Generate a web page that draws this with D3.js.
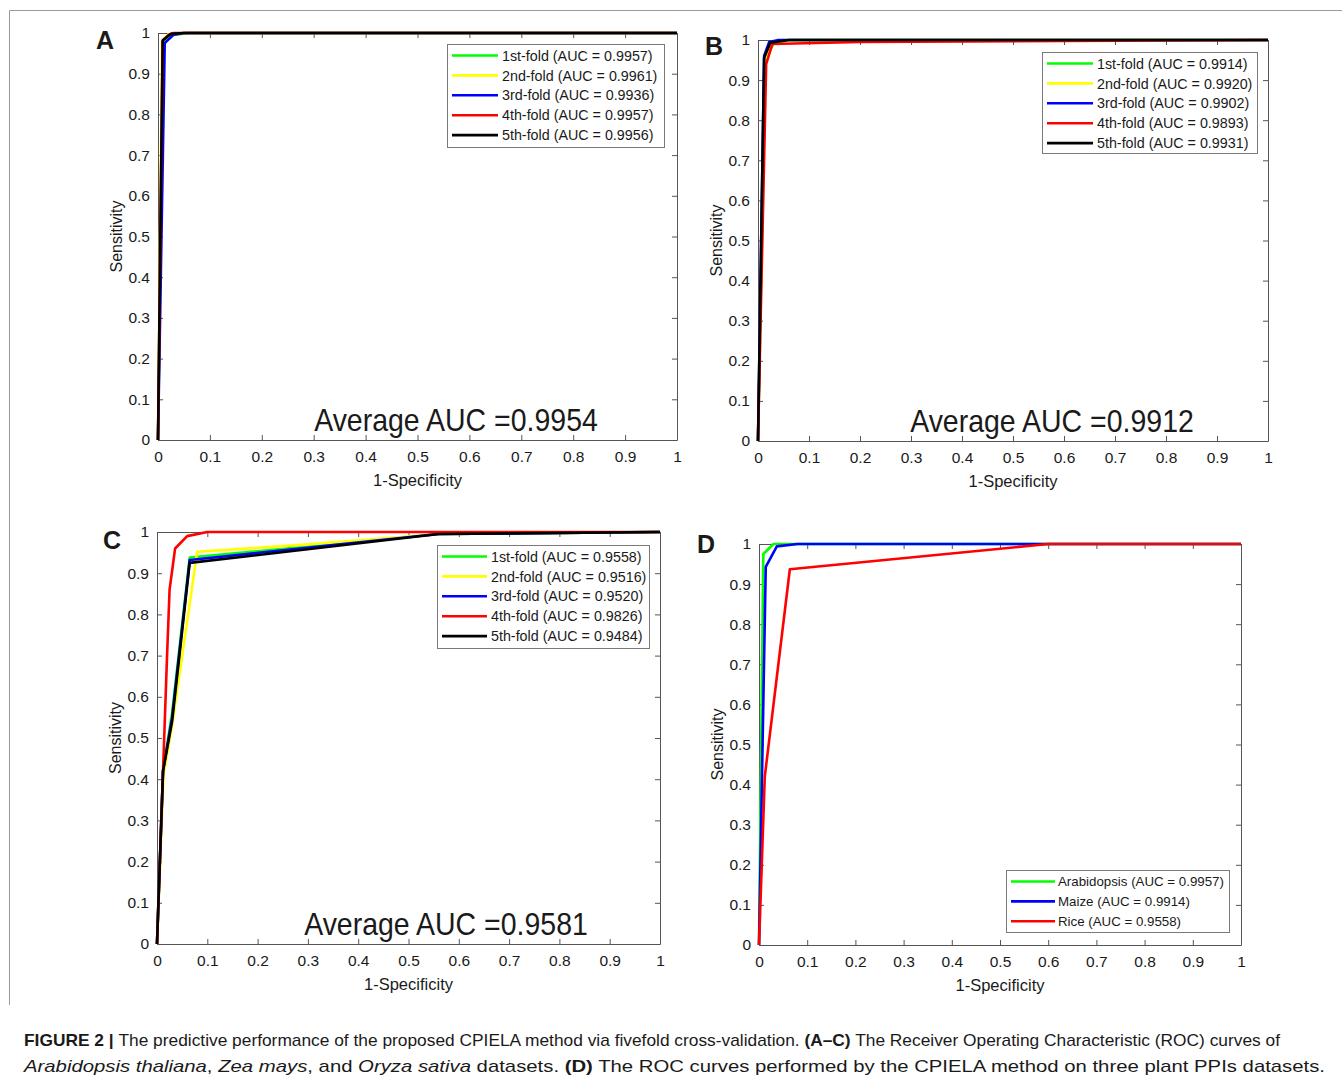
<!DOCTYPE html>
<html>
<head>
<meta charset="utf-8">
<script src="https://cdn.jsdelivr.net/npm/d3@7"></script>
<style>
  body { margin: 0; background: #fff; }
  svg { display: block; }
  text { font-family: "Liberation Sans", Arial, Helvetica, sans-serif; fill: #1a1a1a; }
</style>
</head>
<body>
<svg id="fig" width="1342" height="1082"></svg>
<script>
// ---- data ----
const foldLabels = ["1st-fold", "2nd-fold", "3rd-fold", "4th-fold", "5th-fold"];
const foldColors = ["#00ff00", "#ffff00", "#0000ff", "#ff0000", "#000000"];
const speciesLabels = ["Arabidopsis", "Maize", "Rice"];
const speciesColors = ["#00ff00", "#0000ff", "#ff0000"];

const aucA = ["0.9957", "0.9961", "0.9936", "0.9957", "0.9956"];
const aucB = ["0.9914", "0.9920", "0.9902", "0.9893", "0.9931"];
const aucC = ["0.9558", "0.9516", "0.9520", "0.9826", "0.9484"];
const aucD = ["0.9957", "0.9914", "0.9558"];
const avgAUC = ["0.9954", "0.9912", "0.9581"];

const tickValues = [0, 0.1, 0.2, 0.3, 0.4, 0.5, 0.6, 0.7, 0.8, 0.9, 1];

// ROC curves: [1-specificity, sensitivity]
const rocA = [
  [[0, 0], [0.010, 0.975], [0.03, 0.995], [0.06, 1], [1, 1]],
  [[0, 0], [0.008, 0.980], [0.02, 0.997], [0.05, 1], [1, 1]],
  [[0, 0], [0.013, 0.975], [0.03, 0.996], [0.05, 1], [1, 1]],
  [[0, 0], [0.009, 0.980], [0.02, 0.995], [0.03, 1], [1, 1]],
  [[0, 0], [0.009, 0.982], [0.025, 0.998], [0.05, 1], [1, 1]]
];
const rocB = [
  [[0, 0], [0.014, 0.950], [0.030, 0.990], [0.06, 1], [1, 1]],
  [[0, 0], [0.013, 0.950], [0.026, 0.990], [0.05, 1], [1, 1]],
  [[0, 0], [0.012, 0.960], [0.022, 0.995], [0.04, 1], [1, 1]],
  [[0, 0], [0.016, 0.940], [0.028, 0.990], [0.20, 0.995], [1, 1]],
  [[0, 0], [0.012, 0.955], [0.024, 0.993], [0.06, 1], [1, 1]]
];
const rocC = [
  [[0, 0], [0.012, 0.42], [0.030, 0.56], [0.065, 0.938], [0.30, 0.965], [0.56, 0.995], [1, 1]],
  [[0, 0], [0.013, 0.41], [0.030, 0.53], [0.080, 0.952], [0.30, 0.970], [0.56, 0.995], [1, 1]],
  [[0, 0], [0.012, 0.42], [0.030, 0.55], [0.065, 0.932], [0.56, 0.995], [1, 1]],
  [[0, 0], [0.012, 0.42], [0.020, 0.70], [0.025, 0.86], [0.036, 0.96], [0.06, 0.99], [0.10, 1], [1, 1]],
  [[0, 0], [0.012, 0.42], [0.030, 0.54], [0.065, 0.925], [0.56, 0.995], [1, 1]]
];
const rocD = [
  [[0, 0], [0.009, 0.975], [0.03, 1], [1, 1]],
  [[0, 0], [0.014, 0.943], [0.037, 0.994], [0.08, 1], [1, 1]],
  [[0, 0], [0.012, 0.42], [0.064, 0.937], [0.60, 1], [1, 1]]
];

// ---- layout ----
const panels = [
  { letter: "A", x0: 158, x1: 677, y0: 440, y1: 33, lx: 96, ly: 49,
    curves: rocA, labels: foldLabels, aucs: aucA, colors: foldColors,
    legend: { x: 447, y: 44, w: 217, h: 103, fs: 14.3, tx: 55, lw: 51 }, avg: avgAUC[0], avgX: 456, avgY: 431 },
  { letter: "B", x0: 758, x1: 1268, y0: 441, y1: 40, lx: 705, ly: 55,
    curves: rocB, labels: foldLabels, aucs: aucB, colors: foldColors,
    legend: { x: 1042, y: 52, w: 215, h: 101, fs: 14.3, tx: 55, lw: 51 }, avg: avgAUC[1], avgX: 1052, avgY: 432 },
  { letter: "C", x0: 157, x1: 660, y0: 944, y1: 532, lx: 103, ly: 549,
    curves: rocC, labels: foldLabels, aucs: aucC, colors: foldColors,
    legend: { x: 437, y: 545, w: 212, h: 103, fs: 14.3, tx: 54, lw: 50 }, avg: avgAUC[2], avgX: 446, avgY: 935 },
  { letter: "D", x0: 759, x1: 1241, y0: 945, y1: 544, lx: 697, ly: 553,
    curves: rocD, labels: speciesLabels, aucs: aucD, colors: speciesColors,
    legend: { x: 1006, y: 870, w: 223, h: 62, fs: 13.3, tx: 52, lw: 49 }, avg: null }
];

const svg = d3.select("#fig");
const axisColor = "#555";
const fmt = d => String(+d.toFixed(1));

// figure frame (top and left rule)
svg.append("path")
  .attr("d", "M9.5,1005 V10.5 H1342")
  .attr("fill", "none").attr("stroke", "#9a9a9a").attr("stroke-width", 1);

panels.forEach(p => {
  const x = d3.scaleLinear().domain([0, 1]).range([p.x0, p.x1]);
  const y = d3.scaleLinear().domain([0, 1]).range([p.y0, p.y1]);
  const g = svg.append("g");

  // box + ticks on all sides, pointing inwards
  const styleAxis = sel => {
    sel.select(".domain").attr("stroke", axisColor);
    sel.selectAll(".tick line").attr("stroke", axisColor);
    sel.selectAll(".tick text").attr("fill", "#1a1a1a")
      .style("font-family", '"Liberation Sans", Arial, sans-serif').style("font-size", "15.5px");
  };
  g.append("g").attr("transform", `translate(0,${p.y0})`)
    .call(d3.axisBottom(x).tickValues(tickValues).tickFormat(fmt).tickSizeInner(-5).tickSizeOuter(0).tickPadding(11))
    .call(styleAxis);
  g.append("g").attr("transform", `translate(0,${p.y1})`)
    .call(d3.axisTop(x).tickValues(tickValues).tickFormat("").tickSizeInner(-5).tickSizeOuter(0))
    .call(styleAxis);
  g.append("g").attr("transform", `translate(${p.x0},0)`)
    .call(d3.axisLeft(y).tickValues(tickValues).tickFormat(fmt).tickSizeInner(-5).tickSizeOuter(0).tickPadding(8))
    .call(styleAxis);
  g.append("g").attr("transform", `translate(${p.x1},0)`)
    .call(d3.axisRight(y).tickValues(tickValues).tickFormat("").tickSizeInner(-5).tickSizeOuter(0))
    .call(styleAxis);

  // curves
  const line = d3.line().x(d => x(d[0])).y(d => y(d[1]));
  g.append("g").selectAll("path.roc")
    .data(p.curves).join("path")
    .attr("class", "roc")
    .attr("d", line)
    .attr("fill", "none")
    .attr("stroke", (d, i) => p.colors[i])
    .attr("stroke-width", 2.6)
    .attr("stroke-linejoin", "round");

  // axis labels
  g.append("text")
    .attr("x", (p.x0 + p.x1) / 2).attr("y", p.y0 + 46)
    .attr("text-anchor", "middle").style("font-size", "16.5px")
    .text("1-Specificity");
  g.append("text")
    .attr("transform", `translate(${p.x0 - 42},${(p.y0 + p.y1) / 2}) rotate(-90)`)
    .attr("dy", "0.35em")
    .attr("text-anchor", "middle").style("font-size", "16px")
    .text("Sensitivity");

  // panel letter
  g.append("text")
    .attr("x", p.lx).attr("y", p.ly)
    .style("font-size", "25px").style("font-weight", "bold").attr("fill", "#000")
    .text(p.letter);

  // average AUC
  if (p.avg) {
    g.append("text")
      .attr("transform", `translate(${p.avgX},${p.avgY}) scale(1,1.1)`)
      .attr("text-anchor", "middle").style("font-size", "28.5px").attr("fill", "#000")
      .text("Average AUC =" + p.avg);
  }

  // legend
  const L = p.legend;
  const lg = g.append("g").attr("transform", `translate(${L.x},${L.y})`);
  lg.append("rect")
    .attr("x", 0.5).attr("y", 0.5).attr("width", L.w).attr("height", L.h)
    .attr("fill", "#fff").attr("stroke", "#7a7a7a").attr("stroke-width", 1);
  const items = lg.selectAll("g.item").data(p.labels).join("g")
    .attr("class", "item")
    .attr("transform", (d, i) => `translate(0,${11.5 + i * 19.9})`);
  items.append("line")
    .attr("x1", 5).attr("x2", L.lw)
    .attr("stroke", (d, i) => p.colors[i]).attr("stroke-width", 2.6);
  items.append("text")
    .attr("x", L.tx).attr("dy", "0.36em")
    .style("font-size", L.fs + "px")
    .text((d, i) => `${d} (AUC = ${p.aucs[i]})`);
});

// caption
const cap = svg.append("g").style("font-family", '"Liberation Sans Narrow", "Liberation Sans", Arial, sans-serif')
  .style("font-size", "17px");
const c1 = cap.append("text").attr("x", 24).attr("y", 1046);
c1.append("tspan").style("font-weight", "bold").text("FIGURE 2 | ");
c1.append("tspan").text("The predictive performance of the proposed CPIELA method via fivefold cross-validation. ");
c1.append("tspan").style("font-weight", "bold").text("(A–C)");
c1.append("tspan").text(" The Receiver Operating Characteristic (ROC) curves of");
c1.attr("textLength", 1256).attr("lengthAdjust", "spacingAndGlyphs");

const c2 = cap.append("text").attr("x", 24).attr("y", 1072);
c2.append("tspan").style("font-style", "italic").text("Arabidopsis thaliana");
c2.append("tspan").text(", ");
c2.append("tspan").style("font-style", "italic").text("Zea mays");
c2.append("tspan").text(", and ");
c2.append("tspan").style("font-style", "italic").text("Oryza sativa");
c2.append("tspan").text(" datasets. ");
c2.append("tspan").style("font-weight", "bold").text("(D)");
c2.append("tspan").text(" The ROC curves performed by the CPIELA method on three plant PPIs datasets.");
c2.attr("textLength", 1301).attr("lengthAdjust", "spacingAndGlyphs");
</script>
</body>
</html>
